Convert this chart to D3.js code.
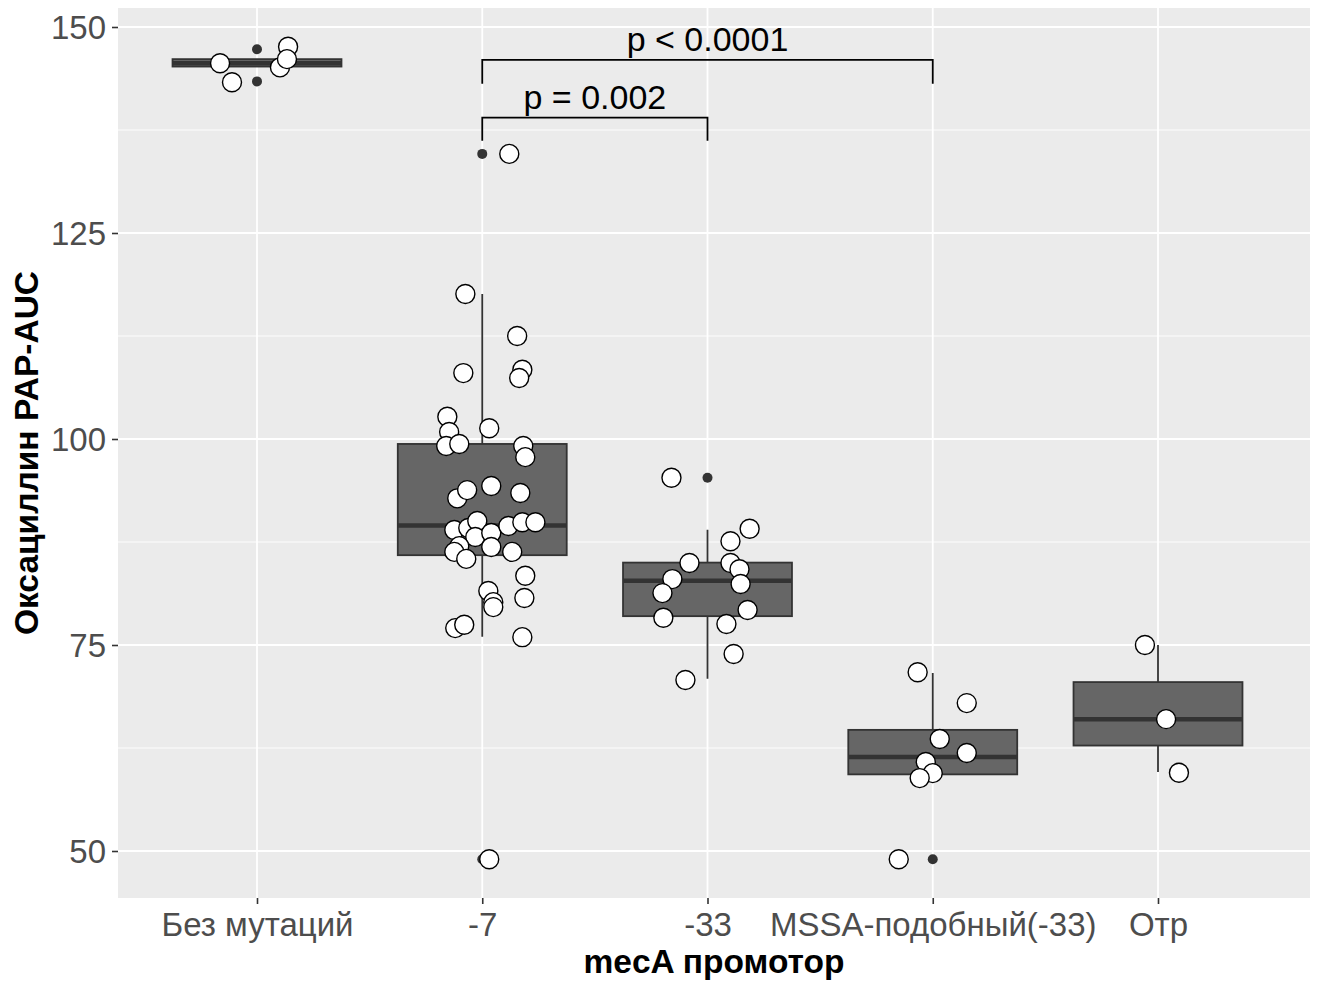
<!DOCTYPE html>
<html>
<head>
<meta charset="utf-8">
<script src="https://cdn.jsdelivr.net/npm/d3@7"></script>
<style>
    body { margin: 0; background: #fff; }
    text { font-family: "Liberation Sans", Arial, sans-serif; }
</style>
</head>
<body>
<div id="chart-area"></div>
<script>

// categories on the x axis
var categories = ["Без мутаций", "-7", "-33", "MSSA-подобный(-33)", "Отр"];

// box statistics, one per category
var whiskerLow  = [145.2,  76.0, 70.9, 59.0, 59.6];
var boxQ1       = [145.2,  85.9, 78.5, 59.3, 62.8];
var boxMedian   = [145.6,  89.5, 82.8, 61.4, 66.0];
var boxQ3       = [146.1,  99.4, 85.0, 64.7, 70.5];
var whiskerHigh = [146.1, 117.6, 89.0, 71.6, 75.0];
var outliers    = [[147.3, 143.4], [134.6, 49.0], [95.3], [49.0], []];

// jittered observations (value, jitter in category units)
var valuesBez = [145.6, 143.3, 145.1, 147.6, 146.1];
var jitterBez = [-0.164, -0.111, 0.102, 0.138, 0.133];

var values7 = [134.6, 117.6, 112.5, 108.0, 108.4, 107.4, 102.7, 100.85, 99.15, 99.4,
    101.3, 99.15, 97.8, 92.8, 93.8, 94.3, 93.45, 88.95, 89.2, 90.05,
    88.1, 88.6, 89.45, 89.9, 89.9, 87.0, 86.3, 86.9, 86.3, 85.45,
    83.4, 81.55, 80.2, 79.6, 80.7, 77.05, 77.45, 75.95, 49.0];
var jitter7 = [0.12, -0.075, 0.155, -0.084, 0.178, 0.164, -0.155, -0.147, -0.16, -0.102,
    0.031, 0.182, 0.191, -0.111, -0.067, 0.04, 0.169, -0.124, -0.062, -0.022,
    -0.031, 0.04, 0.116, 0.178, 0.236, -0.102, -0.124, 0.04, 0.133, -0.071,
    0.191, 0.027, 0.049, 0.049, 0.187, -0.12, -0.08, 0.178, 0.031];

var values33 = [95.3, 89.1, 87.6, 84.95, 84.95, 84.2, 83.0, 81.3, 82.4, 79.25, 78.3, 77.55, 73.9, 70.75];
var jitter33 = [-0.16, 0.187, 0.102, -0.08, 0.102, 0.142, -0.156, -0.2, 0.147, 0.178, -0.196, 0.084, 0.116, -0.098];

var valuesMssa = [71.7, 67.95, 63.6, 61.9, 60.8, 59.45, 58.85, 49.0];
var jitterMssa = [-0.067, 0.151, 0.031, 0.151, -0.031, 0.0, -0.058, -0.151];

var valuesOtr = [75.0, 66.0, 59.5];
var jitterOtr = [-0.058, 0.036, 0.093];

// axis ticks
var yTicks = [50, 75, 100, 125, 150];
var yMinorTicks = [62.5, 87.5, 112.5, 137.5];

// significance brackets
var bracketLabels = ["p < 0.0001", "p = 0.002"];
var bracketFrom   = ["-7", "-7"];
var bracketTo     = ["MSSA-подобный(-33)", "-33"];
var bracketY      = [146.0, 139.0];
var bracketTip    = [143.1, 136.2];


/*
 * BoxJitter - Object constructor function
 * @param _parentElement  -- the HTML element in which to draw the visualization
 */

BoxJitter = function(_parentElement){
    this.parentElement = _parentElement;
    this.initVis();
}


/*
 * Initialize visualization (static content: svg, panel, grid, axes)
 */

BoxJitter.prototype.initVis = function(){
    var vis = this;

    vis.panel = { left: 118, top: 8, right: 1310, bottom: 898 };

    vis.svg = d3.select("#" + vis.parentElement).append("svg")
        .attr("width", 1317)
        .attr("height", 981);

    // Scales
    vis.x = d3.scalePoint()
        .domain(categories)
        .range([257, 1158]);

    vis.y = d3.scaleLinear()
        .domain([50, 150])
        .range([851, 27]);

    // Panel background
    vis.svg.append("rect")
        .attr("x", vis.panel.left)
        .attr("y", vis.panel.top)
        .attr("width", vis.panel.right - vis.panel.left)
        .attr("height", vis.panel.bottom - vis.panel.top)
        .attr("fill", "#ebebeb");

    // Grid lines
    vis.svg.selectAll(".grid-minor").data(yMinorTicks).enter().append("line")
        .attr("x1", vis.panel.left).attr("x2", vis.panel.right)
        .attr("y1", d => vis.y(d)).attr("y2", d => vis.y(d))
        .attr("stroke", "#fff").attr("stroke-width", 0.9);

    vis.svg.selectAll(".grid-major-y").data(yTicks).enter().append("line")
        .attr("x1", vis.panel.left).attr("x2", vis.panel.right)
        .attr("y1", d => vis.y(d)).attr("y2", d => vis.y(d))
        .attr("stroke", "#fff").attr("stroke-width", 1.8);

    vis.svg.selectAll(".grid-major-x").data(categories).enter().append("line")
        .attr("y1", vis.panel.top).attr("y2", vis.panel.bottom)
        .attr("x1", d => vis.x(d)).attr("x2", d => vis.x(d))
        .attr("stroke", "#fff").attr("stroke-width", 1.8);

    // Axes
    vis.yAxis = d3.axisLeft(vis.y).tickValues(yTicks).tickSize(6).tickPadding(6);
    vis.xAxis = d3.axisBottom(vis.x).tickSize(6).tickPadding(8);

    var yg = vis.svg.append("g")
        .attr("class", "y-axis axis")
        .attr("transform", "translate(" + vis.panel.left + ",0)")
        .call(vis.yAxis);

    var xg = vis.svg.append("g")
        .attr("class", "x-axis axis")
        .attr("transform", "translate(0," + vis.panel.bottom + ")")
        .call(vis.xAxis);

    [yg, xg].forEach(function(g){
        g.select(".domain").remove();
        g.selectAll(".tick line").attr("stroke", "#333").attr("stroke-width", 1.6);
        g.selectAll(".tick text")
            .attr("fill", "#4d4d4d")
            .style("font-size", "33px")
            .style("font-family", "'Liberation Sans', Arial, sans-serif");
    });
    yg.selectAll(".tick text").attr("dy", "0.36em");
    xg.selectAll(".tick text").attr("dy", "0.72em");

    // Axis titles
    vis.svg.append("text")
        .attr("x", (vis.panel.left + vis.panel.right) / 2)
        .attr("y", 973)
        .attr("text-anchor", "middle")
        .style("font-size", "33.5px")
        .style("font-weight", "bold")
        .text("mecA промотор");

    vis.svg.append("text")
        .attr("transform", "translate(38," + ((vis.panel.top + vis.panel.bottom) / 2) + ") rotate(-90)")
        .attr("text-anchor", "middle")
        .style("font-size", "33.5px")
        .style("font-weight", "bold")
        .text("Оксациллин PAP-AUC");

    vis.wrangleData();
}


/*
 * Data wrangling
 */

BoxJitter.prototype.wrangleData = function(){
    var vis = this;

    vis.boxes = categories.map(function(c, i){
        return { cat: c, lo: whiskerLow[i], q1: boxQ1[i], med: boxMedian[i], q3: boxQ3[i], hi: whiskerHigh[i] };
    });

    vis.outlierData = [];
    outliers.forEach(function(list, i){
        list.forEach(function(v){ vis.outlierData.push({ cat: categories[i], value: v }); });
    });

    var groups = [[valuesBez, jitterBez], [values7, jitter7], [values33, jitter33],
        [valuesMssa, jitterMssa], [valuesOtr, jitterOtr]];
    vis.points = [];
    groups.forEach(function(g, i){
        g[0].forEach(function(v, j){
            vis.points.push({ cat: categories[i], value: v, jitter: g[1][j] });
        });
    });

    vis.brackets = bracketLabels.map(function(l, i){
        return { label: l, from: bracketFrom[i], to: bracketTo[i], y: bracketY[i], tip: bracketTip[i] };
    });

    vis.updateVis();
}


/*
 * The drawing function
 */

BoxJitter.prototype.updateVis = function(){
    var vis = this;
    var half = vis.x.step() * 0.375;

    // whiskers
    vis.svg.selectAll(".whisker").data(vis.boxes).enter().append("path")
        .attr("class", "whisker")
        .attr("d", d => "M" + vis.x(d.cat) + "," + vis.y(d.hi) + "V" + vis.y(d.q3)
            + "M" + vis.x(d.cat) + "," + vis.y(d.q1) + "V" + vis.y(d.lo))
        .attr("stroke", "#333").attr("stroke-width", 1.8).attr("fill", "none");

    // boxes
    vis.svg.selectAll(".box").data(vis.boxes).enter().append("rect")
        .attr("class", "box")
        .attr("x", d => vis.x(d.cat) - half)
        .attr("width", half * 2)
        .attr("y", d => vis.y(d.q3))
        .attr("height", d => vis.y(d.q1) - vis.y(d.q3))
        .attr("fill", "#666666")
        .attr("stroke", "#333").attr("stroke-width", 1.8);

    // medians
    vis.svg.selectAll(".median").data(vis.boxes).enter().append("line")
        .attr("class", "median")
        .attr("x1", d => vis.x(d.cat) - half).attr("x2", d => vis.x(d.cat) + half)
        .attr("y1", d => vis.y(d.med)).attr("y2", d => vis.y(d.med))
        .attr("stroke", "#333").attr("stroke-width", 4.5);

    // outliers
    vis.svg.selectAll(".outlier").data(vis.outlierData).enter().append("circle")
        .attr("class", "outlier")
        .attr("cx", d => vis.x(d.cat))
        .attr("cy", d => vis.y(d.value))
        .attr("r", 5)
        .attr("fill", "#333");

    // jittered points
    vis.svg.selectAll(".point").data(vis.points).enter().append("circle")
        .attr("class", "point")
        .attr("cx", d => vis.x(d.cat) + d.jitter * vis.x.step())
        .attr("cy", d => vis.y(d.value))
        .attr("r", 9.5)
        .attr("fill", "#fff")
        .attr("stroke", "#000").attr("stroke-width", 1.4);

    // significance brackets
    var br = vis.svg.selectAll(".bracket").data(vis.brackets).enter().append("g")
        .attr("class", "bracket");

    br.append("path")
        .attr("d", d => "M" + vis.x(d.from) + "," + vis.y(d.tip) + "V" + vis.y(d.y)
            + "H" + vis.x(d.to) + "V" + vis.y(d.tip))
        .attr("fill", "none").attr("stroke", "#000").attr("stroke-width", 1.8);

    br.append("text")
        .attr("x", d => (vis.x(d.from) + vis.x(d.to)) / 2)
        .attr("y", d => vis.y(d.y) - 9)
        .attr("text-anchor", "middle")
        .style("font-size", "34px")
        .text(d => d.label);
}

var chart = new BoxJitter("chart-area");

</script>
</body>
</html>
